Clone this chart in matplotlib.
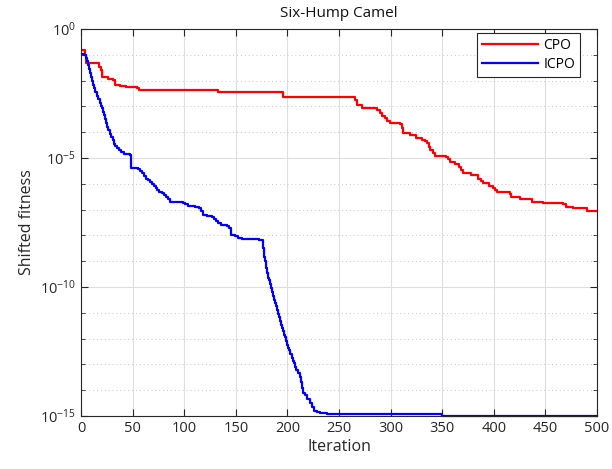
import matplotlib
matplotlib.use("Agg")
from matplotlib import pyplot as plt
from matplotlib.ticker import LogLocator, NullFormatter, MultipleLocator

plt.rcParams['font.family'] = ['Open Sans', 'DejaVu Sans']
plt.rcParams['mathtext.default'] = 'regular'

# convergence curves (iteration where the best value changes, shifted fitness)
cpo_iter = [1, 4, 5, 17, 19, 20, 26, 31, 33, 38, 44, 54, 56, 133, 196, 266, 267,
            272, 284, 287, 290, 292, 295, 297, 299, 309, 311, 312, 319, 325, 330,
            333, 335, 337, 338, 341, 343, 354, 356, 358, 362, 366, 368, 370, 378,
            385, 388, 390, 395, 399, 401, 403, 416, 417, 425, 437, 448, 455, 467,
            470, 477, 490, 500]
cpo_fit = [0.155, 0.10, 0.047, 0.035, 0.025, 0.0135, 0.012, 0.0107, 0.0071, 0.0063,
           0.0056, 0.0050, 0.0044, 0.0035, 0.0024, 0.0018, 1.1e-3, 9.1e-4, 8.5e-4,
           7.1e-4, 5.4e-4, 4.2e-4, 3.5e-4, 2.8e-4, 2.3e-4, 2.1e-4, 1.4e-4, 9.5e-5,
           7.8e-5, 5.8e-5, 5.2e-5, 4.5e-5, 3.7e-5, 2.8e-5, 2.0e-5, 1.6e-5, 1.2e-5,
           1.07e-5, 8.9e-6, 7.2e-6, 5.9e-6, 4.6e-6, 3.5e-6, 2.7e-6, 2.2e-6, 1.6e-6,
           1.3e-6, 1.05e-6, 8.1e-7, 6.8e-7, 5.6e-7, 4.7e-7, 4.0e-7, 3.0e-7, 2.5e-7,
           2.0e-7, 1.86e-7, 1.74e-7, 1.6e-7, 1.29e-7, 1.12e-7, 9.1e-8, 9.1e-8]

icpo_iter = [1, 3, 5, 6, 7, 8, 9, 10, 11, 12, 13, 14, 15, 16, 18, 19, 20, 21, 22,
             23, 24, 25, 26, 28, 29, 31, 32, 33, 35, 37, 39, 42, 47, 48, 51, 55, 57,
             59, 61, 63, 65, 67, 69, 71, 73, 74, 76, 78, 80, 82, 84, 86, 93, 99, 101,
             104, 110, 114, 116, 118, 122, 127, 129, 131, 133, 136, 141, 143, 145,
             149, 152, 156, 165, 172, 176, 177, 178, 179, 180, 181, 182, 183, 184,
             185, 186, 187, 188, 189, 190, 191, 192, 193, 194, 195, 196, 197, 198,
             199, 200, 201, 202, 203, 204, 205, 206, 207, 208, 210, 212, 213, 214,
             215, 217, 219, 222, 224, 226, 229, 232, 238, 350, 500]
icpo_fit = [0.107, 0.10, 0.079, 0.056, 0.040, 0.028, 0.020, 0.0141, 0.010, 0.0071,
            0.0050, 0.0035, 0.0025, 0.0020, 0.0014, 0.0010, 8.5e-4, 6.3e-4, 4.5e-4,
            3.2e-4, 2.2e-4, 1.6e-4, 1.26e-4, 8.9e-5, 6.8e-5, 5.0e-5, 3.5e-5, 3.0e-5,
            2.5e-5, 2.0e-5, 1.66e-5, 1.38e-5, 1.26e-5, 4.3e-6, 4.1e-6, 3.8e-6, 3.2e-6,
            2.6e-6, 2.0e-6, 1.6e-6, 1.4e-6, 1.2e-6, 1.0e-6, 8.3e-7, 7.1e-7, 5.6e-7,
            5.0e-7, 4.5e-7, 3.7e-7, 3.2e-7, 2.5e-7, 2.0e-7, 1.95e-7, 1.86e-7, 1.66e-7,
            1.38e-7, 1.26e-7, 1.12e-7, 8.9e-8, 6.2e-8, 5.6e-8, 5.0e-8, 4.2e-8, 3.5e-8,
            2.95e-8, 2.5e-8, 2.3e-8, 2.0e-8, 1.05e-8, 9.5e-9, 8.3e-9, 7.6e-9, 7.1e-9,
            6.5e-9, 3.2e-9, 1.5e-9, 1.0e-9, 5.6e-10, 3.5e-10, 2.2e-10, 1.8e-10,
            1.26e-10, 8.9e-11, 6.6e-11, 4.5e-11, 3.2e-11, 2.5e-11, 1.8e-11, 1.29e-11,
            8.9e-12, 7.1e-12, 5.0e-12, 3.5e-12, 2.5e-12, 2.0e-12, 1.4e-12, 1.12e-12,
            7.9e-13, 5.6e-13, 4.5e-13, 3.5e-13, 2.5e-13, 1.8e-13, 1.4e-13, 1.12e-13,
            7.9e-14, 6.3e-14, 4.5e-14, 3.3e-14, 2.0e-14, 1.26e-14, 7.6e-15, 6.3e-15,
            4.5e-15, 3.2e-15, 2.2e-15, 1.6e-15, 1.4e-15, 1.3e-15, 1.17e-15, 1.0e-15,
            1.0e-15]

fig = plt.figure(figsize=(6.12, 4.69), dpi=100)
ax = fig.add_axes([0.1324, 0.113, 0.843, 0.825])

ax.plot(cpo_iter, cpo_fit, color='red', lw=1.6, drawstyle='steps-post', label='CPO')
ax.plot(icpo_iter, icpo_fit, color='blue', lw=1.6, drawstyle='steps-post', label='ICPO',
        clip_on=False)

ax.set_yscale('log')
ax.set_xlim(0, 500)
ax.set_ylim(1e-15, 1e0)
ax.xaxis.set_major_locator(MultipleLocator(50))
ax.set_yticks([1e-15, 1e-10, 1e-5, 1e0])
ax.yaxis.set_minor_locator(LogLocator(base=10, subs=[1.0], numticks=30))
ax.yaxis.set_minor_formatter(NullFormatter())

ax.grid(True, which='major', color='#dedede', lw=0.8)
ax.grid(True, which='minor', axis='y', color='#c8c8c8', lw=0.7, ls=(0, (1, 3)))
ax.set_axisbelow(True)

ax.tick_params(which='both', direction='in', top=True, right=True,
               colors='#262626', labelsize=10.5)
ax.tick_params(which='major', length=5)
ax.tick_params(which='minor', length=3)
for s in ax.spines.values():
    s.set_color('#262626')
    s.set_linewidth(0.8)

ax.set_title('Six-Hump Camel', fontsize=11, color='#111111', pad=9)
ax.set_xlabel('Iteration', fontsize=11.5, color='#262626', labelpad=2)
ax.set_ylabel('Shifted fitness', fontsize=11.5, color='#262626', labelpad=4)

leg = ax.legend(loc='upper right', bbox_to_anchor=(0.967, 0.99), fontsize=10,
                fancybox=False, framealpha=1, edgecolor='#262626', handlelength=4.0,
                labelspacing=0.3, borderpad=0.35, handletextpad=0.4, borderaxespad=0)
leg.get_frame().set_linewidth(0.8)

plt.savefig('out.png', dpi=100)
